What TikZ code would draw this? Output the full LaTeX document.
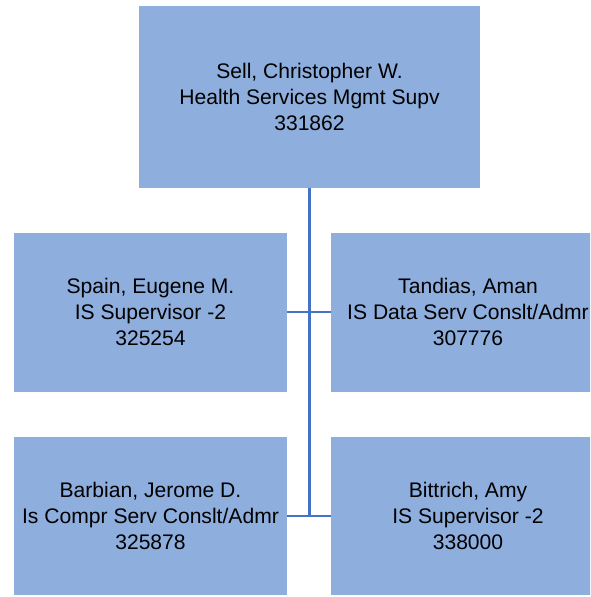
\documentclass[tikz,border=0pt]{standalone}
\usepackage{fontspec}
\setmainfont{Liberation Sans}
\definecolor{boxfill}{RGB}{142,174,222}
\definecolor{linkblue}{RGB}{68,114,196}
\begin{document}
\begin{tikzpicture}[x=1pt,y=-1pt,
  person/.style={rectangle, fill=boxfill, draw=none, align=center, inner sep=0pt,
    font=\fontsize{21.1}{26}\selectfont, text=black},
  bigbox/.style={person, minimum width=341pt, minimum height=181.5pt},
  smallbox/.style={person, minimum width=273.5pt, minimum height=158.5pt},
  link/.style={draw=linkblue, line width=2.2pt}]
\useasboundingbox (0,0) rectangle (590,597);
\clip (0,0) rectangle (590,597);
\node[bigbox] (top) at (309.5,96.75) {Sell, Christopher W.\\Health Services Mgmt Supv\\331862};
\node[smallbox] (ml) at (150.5,312.3) {Spain, Eugene M.\\IS Supervisor -2\\325254};
\node[smallbox] (mr) at (468,312.3) {Tandias, Aman\\IS Data Serv Conslt/Admr\\307776};
\node[smallbox] (bl) at (150.5,516) {Barbian, Jerome D.\\Is Compr Serv Conslt/Admr\\325878};
\node[smallbox] (br) at (468,516) {Bittrich, Amy\\IS Supervisor -2\\338000};
\coordinate (junc) at (top.south |- bl.east);
\draw[link] (top.south) -- (junc);
\draw[link] (ml.east) -- (mr.west);
\draw[link] (bl.east) -- (br.west);
\end{tikzpicture}
\end{document}
